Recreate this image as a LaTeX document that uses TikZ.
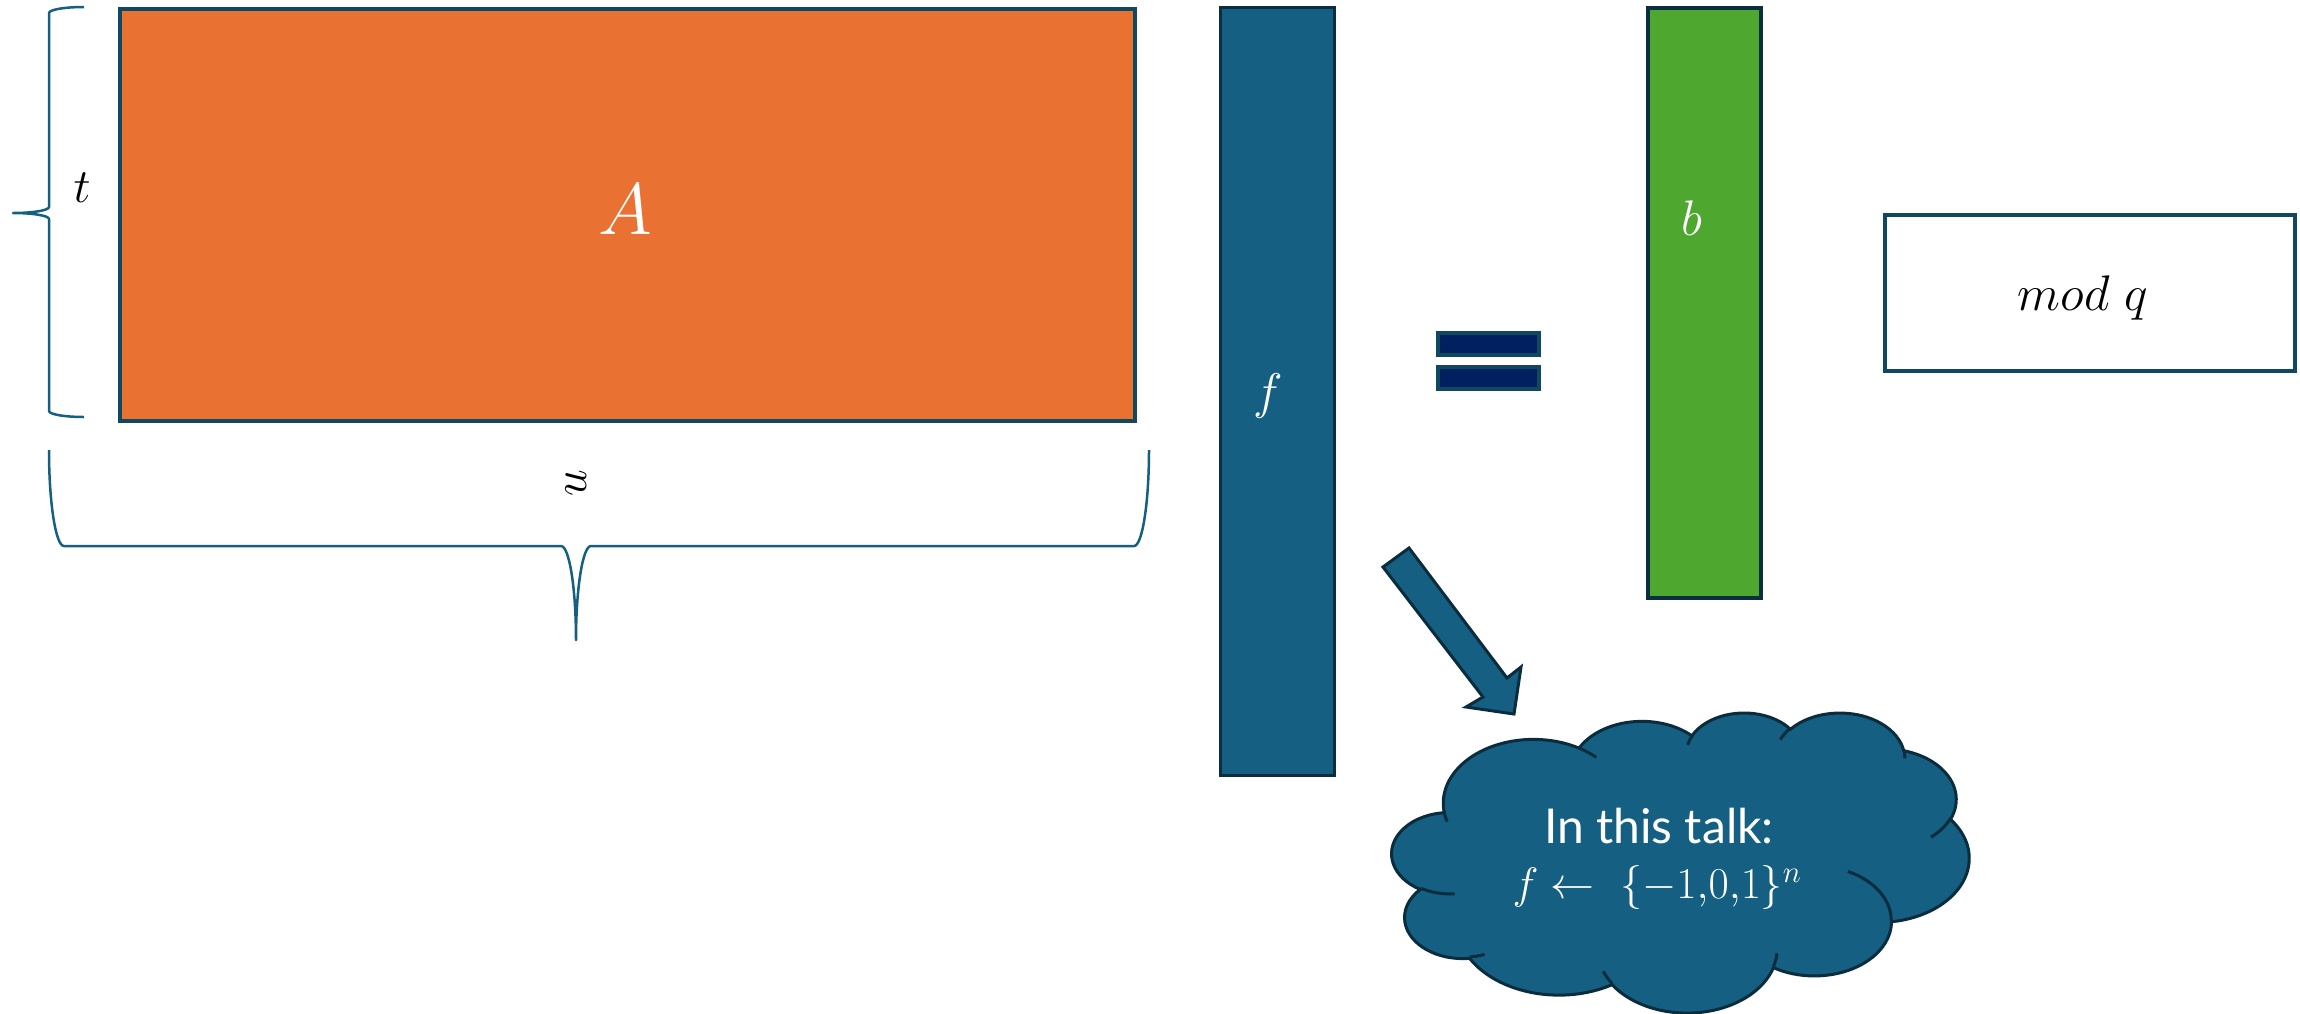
\RequirePackage{fix-cm}
\documentclass[tikz,border=0pt]{standalone}
\usepackage{fontspec}
\newfontfamily\cloudfont{Lato}
\definecolor{orangeA}{HTML}{E97132}
\definecolor{tealA}{HTML}{156082}
\definecolor{greenA}{HTML}{4EA72E}
\definecolor{navyA}{HTML}{002060}
\definecolor{edgeA}{HTML}{104862}
\definecolor{edgeB}{HTML}{0B2F40}
\definecolor{edgeC}{HTML}{0A2C3D}
\newcommand\cldcalc[5]{%
  \pgfmathsetmacro\cldtmpS{atan2((#2)*sin(#4),(#3)*cos(#4))}%
  \pgfmathsetmacro\cldtmpE{atan2((#2)*sin((#4)+(#5)),(#3)*cos((#4)+(#5)))}%
  \pgfmathsetmacro\cldtmpD{(\cldtmpE)-(\cldtmpS)}%
  \pgfmathsetmacro\cldtmpD{(\cldtmpD)-360*round(((\cldtmpD)-(#5))/360)}%
  \expandafter\xdef\csname cld#1S\endcsname{\cldtmpS}%
  \expandafter\xdef\csname cld#1D\endcsname{\cldtmpD}%
}
\tikzset{
  blockbox/.style={inner sep=0pt, outer sep=0pt, anchor=north west},
  bracepath/.style={draw=tealA, line width=2.5pt, line join=round},
  lbl/.style={inner sep=0pt, outer sep=0pt},
  cloudedge/.style={draw=edgeC, line width=3pt},
}
\begin{document}
\begin{tikzpicture}[x=1pt,y=-1pt]
\fill[white] (0,0) rectangle (2300,1013);
\useasboundingbox (0,0) rectangle (2300,1013);

% matrix A
\node[blockbox, fill=orangeA, draw=edgeA, line width=4pt, minimum width=1015pt, minimum height=412pt] (Amat) at (120,9) {};
\node[lbl, text=white] (Alab) at (625,210) {\fontsize{73}{80}\selectfont $A$};

% vector f
\node[blockbox, fill=tealA, draw=edgeB, line width=3pt, minimum width=114pt, minimum height=768pt] (fvec) at (1220.5,7.5) {};
\node[lbl, text=white] (flab) at (1268,396) {\fontsize{50}{55}\selectfont $f$};

% equals sign
\node[blockbox, fill=navyA, draw=edgeA, line width=4pt, minimum width=101pt, minimum height=22pt] (eqtop) at (1438,333) {};
\node[blockbox, fill=navyA, draw=edgeA, line width=4pt, minimum width=101pt, minimum height=22pt] (eqbot) at (1438,367) {};

% vector b
\node[blockbox, fill=greenA, draw=edgeB, line width=4pt, minimum width=113pt, minimum height=590pt] (bvec) at (1648,8) {};
\node[lbl, text=white] (blab) at (1692,218) {\fontsize{50}{55}\selectfont $b$};

% mod q box
\node[blockbox, fill=white, draw=edgeA, line width=4pt, minimum width=410pt, minimum height=156pt] (modbox) at (1885,215) {};
\node[lbl] (modlab) at (2083,298) {\fontsize{50}{55}\selectfont $mod\ q$};

% left brace (t)
\draw[bracepath] (84,7) arc[start angle=-90, end angle=-180, x radius=35, y radius=6]
  -- (49,207) arc[start angle=0, end angle=90, x radius=36, y radius=6]
  arc[start angle=-90, end angle=0, x radius=36, y radius=6]
  -- (49,411) arc[start angle=180, end angle=90, x radius=35, y radius=6];
\node[lbl] (tlab) at (82,188) {\fontsize{48}{52}\selectfont $t$};

% bottom brace (u)
\draw[bracepath] (49,450) arc[start angle=180, end angle=90, x radius=15, y radius=96]
  -- (561,546) arc[start angle=-90, end angle=0, x radius=15, y radius=94]
  arc[start angle=180, end angle=270, x radius=15, y radius=94]
  -- (1134,546) arc[start angle=90, end angle=0, x radius=15, y radius=96];
\node[lbl, rotate=90] (ulab) at (576,483) {\fontsize{48}{52}\selectfont $u$};

% block arrow
\filldraw[fill=tealA, draw=edgeC, line width=3pt, line join=miter]
  (1383,567) -- (1409,548) -- (1507,678) -- (1521,667) -- (1514,714) -- (1466,707) -- (1483,697) -- cycle;

% cloud
\cldcalc{a}{675.3}{919.0}{-190.4875}{123.7805}
\cldcalc{b}{533.3}{726.7}{-144.1024}{89.9452}
\cldcalc{c}{436.5}{594.5}{-145.8079}{99.7230}
\cldcalc{d}{485.7}{659.5}{-130.9861}{117.2417}
\cldcalc{e}{533.3}{727.3}{-78.7089}{109.0269}
\cldcalc{f}{677.5}{922.0}{-46.2673}{130.2690}
\cldcalc{g}{578.5}{786.7}{0.6250}{114.0333}
\cldcalc{h}{675.2}{921.5}{22.4516}{115.1726}
\cldcalc{i}{772.0}{1054.3}{66.2426}{75.7110}
\cldcalc{j}{436.0}{591.8}{-274.9421}{146.7356}
\cldcalc{k}{434.5}{594.5}{-246.8285}{152.5189}
\cldcalc{ta}{434.5}{594.5}{86.742}{26.4295}
\cldcalc{tb}{436.0}{591.8}{73.6105}{11.4475}
\cldcalc{tc}{675.2}{921.5}{137.6242}{14.0811}
\cldcalc{td}{675.2}{921.5}{6.4533}{15.9984}
\cldcalc{te}{578.5}{786.7}{-70.2924}{70.9174}
\cldcalc{tf}{533.3}{727.3}{30.3180}{27.7515}
\cldcalc{tg}{485.7}{659.5}{-13.7443}{14.8589}
\cldcalc{th}{485.7}{659.5}{-149.1815}{18.1954}
\cldcalc{ti}{436.5}{594.5}{-163.4943}{17.6864}
\cldcalc{tj}{675.3}{919.0}{-66.7070}{12.3194}
\cldcalc{tk}{675.3}{919.0}{157.6544}{11.8582}
\begin{scope}[shift={(1392,712)}, x=0.13356pt, y=-0.069444pt]
\filldraw[fill=tealA, cloudedge] (390,1437)
  arc[start angle=\cldaS, delta angle=\cldaD, x radius=675.3, y radius=919.0]
  arc[start angle=\cldbS, delta angle=\cldbD, x radius=533.3, y radius=726.7]
  arc[start angle=\cldcS, delta angle=\cldcD, x radius=436.5, y radius=594.5]
  arc[start angle=\clddS, delta angle=\clddD, x radius=485.7, y radius=659.5]
  arc[start angle=\cldeS, delta angle=\cldeD, x radius=533.3, y radius=727.3]
  arc[start angle=\cldfS, delta angle=\cldfD, x radius=677.5, y radius=922.0]
  arc[start angle=\cldgS, delta angle=\cldgD, x radius=578.5, y radius=786.7]
  arc[start angle=\cldhS, delta angle=\cldhD, x radius=675.2, y radius=921.5]
  arc[start angle=\cldiS, delta angle=\cldiD, x radius=772.0, y radius=1054.3]
  arc[start angle=\cldjS, delta angle=\cldjD, x radius=436.0, y radius=591.8]
  arc[start angle=\cldkS, delta angle=\cldkD, x radius=434.5, y radius=594.5]
  -- cycle;
\draw[cloudedge] (469.3,2617.7) arc[start angle=\cldtaS, delta angle=\cldtaD, x radius=434.5, y radius=594.5];
\draw[cloudedge] (692.8,3489.9) arc[start angle=\cldtbS, delta angle=\cldtbD, x radius=436.0, y radius=591.8];
\draw[cloudedge] (1647.8,3909.0) arc[start angle=\cldtcS, delta angle=\cldtcD, x radius=675.2, y radius=921.5];
\draw[cloudedge] (2882.7,3475.1) arc[start angle=\cldtdS, delta angle=\cldtdD, x radius=675.2, y radius=921.5];
\draw[cloudedge] (3412.9,2295.4) arc[start angle=\cldteS, delta angle=\cldteD, x radius=578.5, y radius=786.7];
\draw[cloudedge] (4179.8,1535.4) arc[start angle=\cldtfS, delta angle=\cldtfD, x radius=533.3, y radius=727.3];
\draw[cloudedge] (3832.4,542.6) arc[start angle=\cldtgS, delta angle=\cldtgD, x radius=485.7, y radius=659.5];
\draw[cloudedge] (2907.8,395.2) arc[start angle=\cldthS, delta angle=\cldthD, x radius=485.7, y radius=659.5];
\draw[cloudedge] (2214.1,472.0) arc[start angle=\cldtiS, delta angle=\cldtiD, x radius=436.5, y radius=594.5];
\draw[cloudedge] (1400.0,519.2) arc[start angle=\cldtjS, delta angle=\cldtjD, x radius=675.3, y radius=919.0];
\draw[cloudedge] (412.7,1578.9) arc[start angle=\cldtkS, delta angle=\cldtkD, x radius=675.3, y radius=919.0];
\end{scope}
\node[lbl, anchor=base, text=white] (talkA) at (1659,843) {\cloudfont\fontsize{48}{52}\selectfont In this talk:};
\node[lbl, anchor=base, text=white] (talkB) at (1657,898) {\fontsize{44}{48}\selectfont $f\leftarrow\ \{-1{,}0{,}1\}^{n}$};
\end{tikzpicture}
\end{document}
